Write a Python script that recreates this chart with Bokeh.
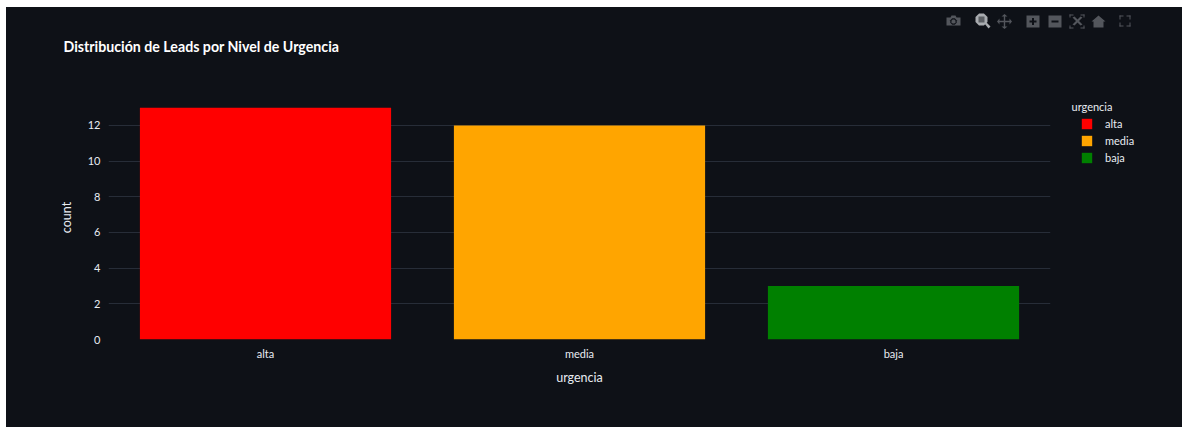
from bokeh.plotting import figure
from bokeh.layouts import column
from bokeh.models import ColumnDataSource, Legend, LegendItem, Range1d, FixedTicker, Label
from bokeh.embed import file_html
from bokeh.resources import INLINE

categories = ["alta", "media", "baja"]
counts = [13, 12, 3]
colors = ["#ff0000", "#ffa500", "#008000"]
y_ticks = [0, 2, 4, 6, 8, 10, 12]

BG = "#0e1117"
GRID = "#272d38"
TXT = "#e8ecf2"
FONT = "Lato"
ICON = "#53565c"
LIGHT = "#a9acb0"

p = figure(x_range=categories, y_range=Range1d(0, 13.68), output_backend="svg", toolbar_location=None,
           width=1176, height=398, frame_width=942, frame_height=244, margin=(0, 0, 0, 6),
           min_border_left=102, min_border_top=66, min_border_right=132, min_border_bottom=88,
           background_fill_alpha=0, border_fill_alpha=0, outline_line_color=None,
           styles={"background-color": BG})
p.frame_align = False

rs = []
for c, v, col in zip(categories, counts, colors):
    src = ColumnDataSource(dict(x=[c], top=[v]))
    rs.append(p.vbar(x="x", top="top", bottom=0, width=0.8, source=src, fill_color=col, line_color=None))

p.xgrid.visible = False
p.ygrid.grid_line_color = GRID
p.ygrid.grid_line_width = 1
p.ygrid.level = "underlay"
p.yaxis.ticker = FixedTicker(ticks=y_ticks)
for ax in (p.xaxis[0], p.yaxis[0]):
    ax.axis_line_color = None
    ax.major_tick_line_color = None
    ax.minor_tick_line_color = None
    ax.major_tick_out = 0
    ax.minor_tick_out = 0
    ax.major_label_text_color = TXT
    ax.major_label_text_font = FONT
    ax.major_label_text_font_size = "11px"
    ax.axis_label_text_color = TXT
    ax.axis_label_text_font = FONT
    ax.axis_label_text_font_size = "12.5px"
    ax.axis_label_text_font_style = "normal"
p.xaxis.axis_label = "urgencia"
p.yaxis.axis_label = "count"
p.xaxis.major_label_standoff = 7
p.yaxis.major_label_standoff = 8
p.xaxis.axis_label_standoff = 7
p.yaxis.axis_label_standoff = 11

p.add_layout(Label(x=57, y=17, x_units="canvas", y_units="canvas", text="Distribución de Leads por Nivel de Urgencia",
                   text_color="#ffffff", text_font=FONT, text_font_size="14.2px", text_font_style="bold",
                   text_baseline="middle"), "above")

legend = Legend(items=[LegendItem(label=c, renderers=[r]) for c, r in zip(categories, rs)],
                label_text_color=TXT, label_text_font=FONT, label_text_font_size="11px",
                background_fill_alpha=0, border_line_color=None, glyph_width=13, glyph_height=13,
                label_standoff=12, spacing=4, padding=0, margin=0, location=(30, 175))
p.add_layout(legend, "right")
p.add_layout(Label(x=1065, y=77, x_units="canvas", y_units="canvas", text="urgencia", text_color=TXT,
                   text_font=FONT, text_font_size="11px", text_baseline="middle"), "right")

# modebar strip (its axes are page pixels)
top = figure(x_range=Range1d(6, 1182), y_range=Range1d(29, 7), output_backend="svg", toolbar_location=None,
             width=1176, height=22, frame_width=1176, frame_height=22, margin=(7, 0, 0, 6), min_border=0,
             x_axis_location=None, y_axis_location=None,
             background_fill_alpha=0, border_fill_alpha=0, outline_line_color=None, styles={"background-color": BG})
top.frame_align = False
top.grid.visible = False

def box(x0, y0, x1, y1, col=ICON):
    top.quad(left=x0, right=x1, top=y0, bottom=y1, fill_color=col, line_color=None)
def poly(xs, ys, col=ICON):
    top.patch(xs, ys, fill_color=col, line_color=None)
def oct_(cx, cy, r, col=ICON):
    k = 0.41 * r
    poly([cx-r, cx-k, cx+k, cx+r, cx+r, cx+k, cx-k, cx-r], [cy-k, cy-r, cy-r, cy-k, cy+k, cy+r, cy+r, cy+k], col)

# camera
poly([946, 950, 951, 955, 956, 960, 960, 946], [17, 17, 15, 15, 17, 17, 25, 25])
oct_(953, 21, 3.2, BG); oct_(953, 21, 2, ICON)
# zoom
oct_(981, 19, 6, LIGHT); box(978, 16, 984, 22, "#5b5e63")
poly([984, 986, 990, 988], [23, 22, 26, 28], LIGHT)
# pan
box(1003.3, 15, 1004.7, 27); box(998, 20.3, 1010, 21.7)
poly([1001, 1007, 1004], [16, 16, 13.5]); poly([1001, 1007, 1004], [26, 26, 28.5])
poly([999, 999, 996.5], [18, 24, 21]); poly([1009, 1009, 1011.5], [18, 24, 21])
# plus / minus
box(1026, 15, 1039, 27); box(1029, 20, 1036, 22, BG); box(1031.5, 17.5, 1033.5, 24.5, BG)
box(1048, 15, 1061, 27); box(1051, 20, 1058, 22, BG)
# autoscale
for (a, b) in [(1069, 14), (1080, 14), (1069, 25), (1080, 25)]:
    bx = a if a == 1069 else a + 3
    by = b if b == 14 else b + 2
    box(a, by, a + 4, by + 1); box(bx, b, bx + 1, b + 3)
poly([1072, 1074, 1082, 1080], [17, 16, 24, 25]); poly([1080, 1082, 1074, 1072], [16, 17, 25, 24])
# home
poly([1091, 1098, 1105, 1103, 1103, 1093, 1093], [21, 15, 21, 21, 27, 27, 21])
# fullscreen
for (a, b, sx, sy) in [(1119, 15, 1, 1), (1129, 15, -1, 1), (1119, 25, 1, -1), (1129, 25, -1, -1)]:
    box(min(a, a + 3 * sx), b, max(a, a + 3 * sx) + 1, b + 1); box(a, min(b, b + 3 * sy), a + 1, max(b, b + 3 * sy) + 1)

layout = column(top, p, spacing=0)
open("out.html", "w").write(file_html(layout, INLINE))
